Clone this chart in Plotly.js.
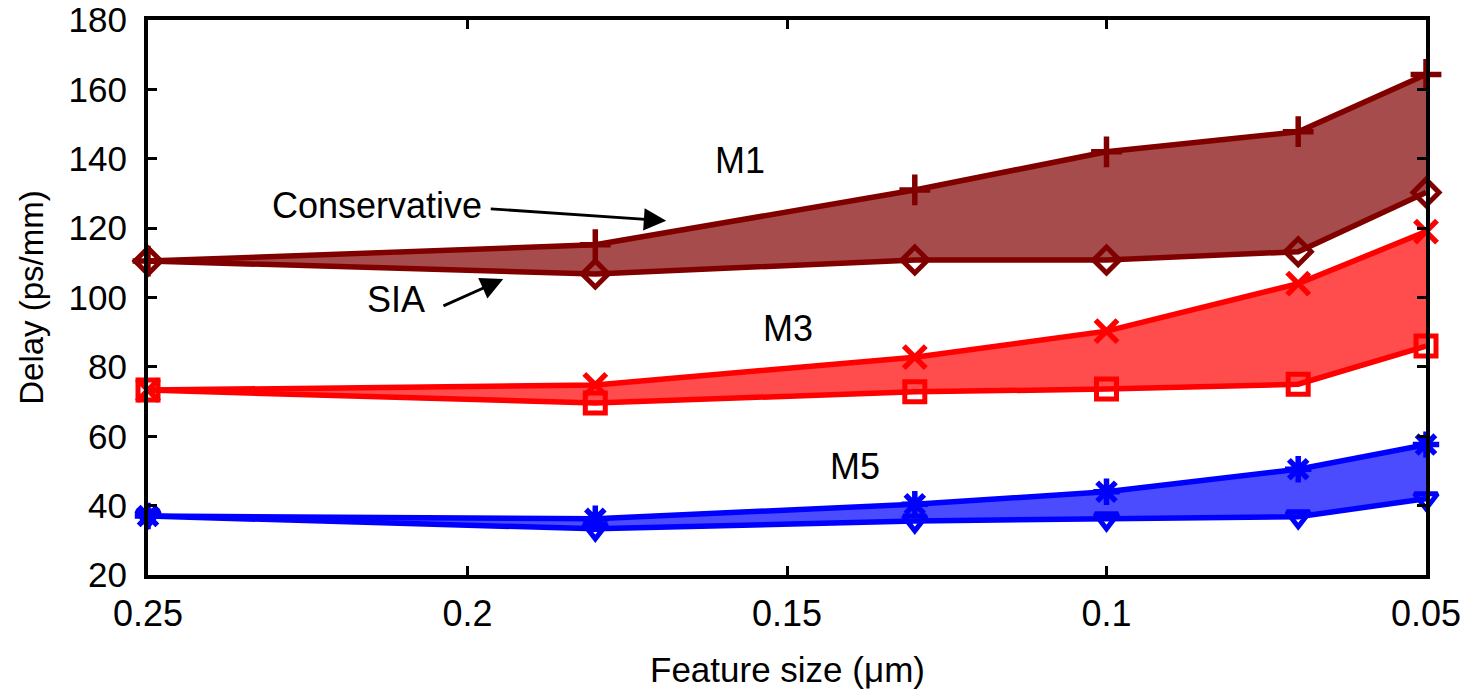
<!DOCTYPE html>
<html>
<head>
<meta charset="utf-8">
<script src="https://cdn.plot.ly/plotly-3.0.1.min.js"></script>
<style>html,body{margin:0;padding:0;background:#fff;}#chart{width:1478px;height:696px;}</style>
</head>
<body>
<div id="chart"></div>
<script>
// Feature size (um)
const featureSize = [0.25, 0.18, 0.13, 0.10, 0.07, 0.05];

// Delay (ps/mm)
const m1Conservative = [110.5, 115.2, 131.0, 142.0, 147.8, 164.3];
const m1SIA          = [110.5, 106.8, 110.8, 110.8, 113.2, 130.3];
const m3Conservative = [73.3, 74.8, 82.8, 90.3, 104.0, 119.0];
const m3SIA          = [73.3, 69.6, 72.8, 73.6, 75.0, 86.0];
const m5Conservative = [37.0, 36.2, 40.4, 44.0, 50.5, 57.6];
const m5SIA          = [37.0, 33.3, 35.6, 36.2, 36.8, 42.0];

const xTicks = [0.25, 0.2, 0.15, 0.1, 0.05];
const xTickText = ['0.25', '0.2', '0.15', '0.1', '0.05'];
const yTicks = [20, 40, 60, 80, 100, 120, 140, 160, 180];

const FONT = 'Liberation Sans, Arial, sans-serif';

function pair(lineColor, fillColor, sia, cons, siaSym, consSym) {
  return [
    {
      x: featureSize, y: sia, type: 'scatter', mode: 'lines+markers',
      line: {color: lineColor, width: 5.5},
      marker: {symbol: siaSym, size: 20, color: lineColor, line: {color: lineColor, width: 5}},
      cliponaxis: false, showlegend: false, hoverinfo: 'x+y'
    },
    {
      x: featureSize, y: cons, type: 'scatter', mode: 'lines+markers',
      fill: 'tonexty', fillcolor: fillColor,
      line: {color: lineColor, width: 5.5},
      marker: {symbol: consSym, size: 22, color: lineColor, line: {color: lineColor, width: 5.5}},
      cliponaxis: false, showlegend: false, hoverinfo: 'x+y'
    }
  ];
}

const data = [].concat(
  pair('#800000', 'rgba(128,0,0,0.7)', m1SIA, m1Conservative, 'diamond-open', 'cross-thin-open'),
  pair('#ff0000', 'rgba(255,0,0,0.7)', m3SIA, m3Conservative, 'square-open', 'x-thin-open'),
  pair('#0000ff', 'rgba(0,0,255,0.7)', m5SIA, m5Conservative, 'triangle-down-open', 'asterisk-open')
);

const txtFont = {family: FONT, size: 36, color: '#000'};

const annotations = [
  {x: 0.1573, y: 139.6, xref: 'x', yref: 'y', text: 'M1', showarrow: false, font: txtFont},
  {x: 0.1499, y: 91.2, xref: 'x', yref: 'y', text: 'M3', showarrow: false, font: txtFont},
  {x: 0.1393, y: 51.4, xref: 'x', yref: 'y', text: 'M5', showarrow: false, font: txtFont},
  {x: 0.2141, y: 126.4, xref: 'x', yref: 'y', text: 'Conservative', showarrow: false, font: txtFont},
  {x: 0.2112, y: 99.3, xref: 'x', yref: 'y', text: 'SIA', showarrow: false, font: txtFont},
  // x axis title
  {x: 0.5, y: -0.17, xref: 'paper', yref: 'paper', xanchor: 'center', yanchor: 'middle',
   text: 'Feature size (μm)', showarrow: false, font: {family: FONT, size: 35, color: '#000'}},
  // arrows
  {x: 0.1689, y: 122.1, ax: 0.1966, ay: 125.6, xref: 'x', yref: 'y', axref: 'x', ayref: 'y',
   text: '', showarrow: true, arrowhead: 2, arrowsize: 1.6, arrowwidth: 2.8, arrowcolor: '#000', standoff: 0, startstandoff: 0},
  {x: 0.1944, y: 105.3, ax: 0.2040, ay: 97.4, xref: 'x', yref: 'y', axref: 'x', ayref: 'y',
   text: '', showarrow: true, arrowhead: 2, arrowsize: 1.6, arrowwidth: 2.8, arrowcolor: '#000', standoff: 0, startstandoff: 0}
];

const layout = {
  width: 1478, height: 696,
  margin: {l: 148, r: 52, t: 20, b: 121},
  paper_bgcolor: '#fff', plot_bgcolor: '#fff',
  font: {family: FONT, size: 36, color: '#000'},
  xaxis: {
    range: [0.25, 0.05], autorange: false,
    tickvals: xTicks, ticktext: xTickText,
    ticks: 'inside', ticklen: 9, tickwidth: 3, tickcolor: '#000',
    showline: true, linewidth: 4, linecolor: '#000', mirror: 'ticks',
    showgrid: false, zeroline: false,
    tickfont: {family: FONT, size: 36, color: '#000'},
    ticklabelstandoff: 4,
    ticklabeloverflow: 'allow'
  },
  yaxis: {
    range: [20, 180], autorange: false,
    tickvals: yTicks,
    ticks: 'inside', ticklen: 9, tickwidth: 3, tickcolor: '#000',
    showline: true, linewidth: 4, linecolor: '#000', mirror: 'ticks',
    showgrid: false, zeroline: false,
    tickfont: {family: FONT, size: 35, color: '#000'},
    ticklabelstandoff: 10,
    ticklabeloverflow: 'allow',
    title: {text: 'Delay (ps/mm)', font: {family: FONT, size: 33, color: '#000'}, standoff: 16}
  },
  annotations: annotations,
  showlegend: false
};

Plotly.newPlot('chart', data, layout, {displayModeBar: false, staticPlot: true});
</script>
</body>
</html>
